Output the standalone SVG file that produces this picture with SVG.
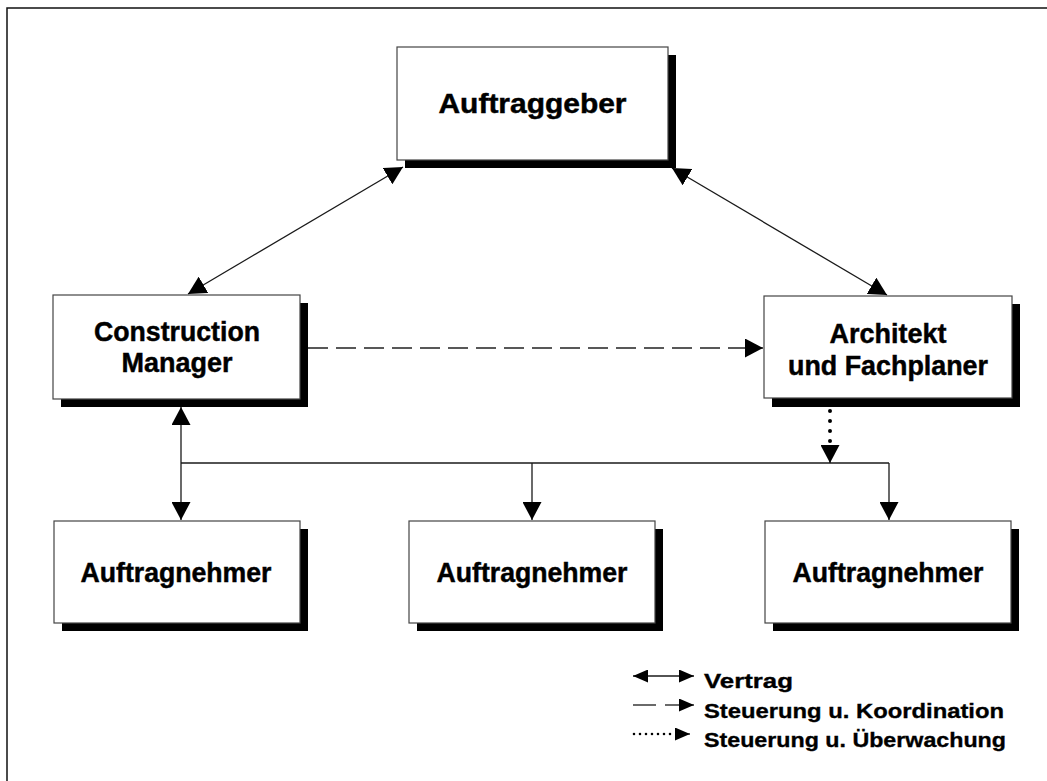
<svg xmlns="http://www.w3.org/2000/svg" width="1047" height="781" viewBox="0 0 1047 781">
  <style>
    .box { fill: #ffffff; stroke: #444444; stroke-width: 1.2; }
    .shadow { fill: #000000; }
    .label { font-family: "Liberation Sans", Arial, sans-serif; font-weight: bold; font-size: 27px; fill: #000000; stroke: #000000; stroke-width: 0.45; text-anchor: middle; }
    .legend { font-family: "Liberation Sans", Arial, sans-serif; font-weight: bold; font-size: 21px; fill: #000000; stroke: #000000; stroke-width: 0.35; }
    .line { fill: none; stroke: #1a1a1a; stroke-width: 1.3; }
    .dashed { stroke: #222222; stroke-width: 1.6; stroke-dasharray: 20 8; }
    .dotted { stroke: #000000; stroke-width: 4; stroke-linecap: round; stroke-dasharray: 0 10; }
    .ldotted { stroke: #000000; stroke-width: 2.6; stroke-linecap: round; stroke-dasharray: 0 6; }
  </style>
  <defs>
    <marker id="head" markerUnits="userSpaceOnUse" markerWidth="18" markerHeight="19" refX="18" refY="9.5" orient="auto-start-reverse">
      <path d="M0,0 L18,9.5 L0,19 Z" fill="#000000"/>
    </marker>
    <marker id="headSmall" markerUnits="userSpaceOnUse" markerWidth="15" markerHeight="13" refX="15" refY="6.5" orient="auto-start-reverse">
      <path d="M0,0 L15,6.5 L0,13 Z" fill="#000000"/>
    </marker>
  </defs>

  <rect width="1047" height="781" fill="#ffffff"/>
  <!-- outer frame (top and left edges) -->
  <path d="M7,781 L7,8 L1047,8" fill="none" stroke="#111111" stroke-width="1.5"/>

  <g id="connectors">
    <!-- contracts -->
    <line class="line" x1="188" y1="294" x2="403" y2="167" marker-start="url(#head)" marker-end="url(#head)"/>
    <line class="line" x1="672" y1="168" x2="887" y2="295" marker-start="url(#head)" marker-end="url(#head)"/>
    <line class="line" x1="181" y1="407" x2="181" y2="520" marker-start="url(#head)" marker-end="url(#head)"/>
    <!-- distribution bus to contractors -->
    <line class="line" x1="181" y1="463" x2="889" y2="463"/>
    <line class="line" x1="532" y1="463" x2="532" y2="520" marker-end="url(#head)"/>
    <line class="line" x1="889" y1="463" x2="889" y2="520" marker-end="url(#head)"/>
    <!-- coordination -->
    <line class="line dashed" x1="308" y1="348" x2="763" y2="348" marker-end="url(#head)"/>
    <!-- supervision -->
    <line class="line dotted" x1="830" y1="411" x2="830" y2="443"/>
    <line class="line" x1="830" y1="446" x2="830" y2="463" stroke="none" marker-end="url(#head)"/>
  </g>

  <g id="auftraggeber">
    <rect class="shadow" x="405" y="55" width="271" height="113"/>
    <rect class="box" x="397" y="47" width="271" height="113"/>
    <text class="label" x="532.5" y="113" textLength="188" lengthAdjust="spacingAndGlyphs">Auftraggeber</text>
  </g>

  <g id="construction-manager">
    <rect class="shadow" x="61" y="303" width="247" height="104"/>
    <rect class="box" x="53" y="295" width="247" height="104"/>
    <text class="label" x="177" y="341" textLength="166" lengthAdjust="spacingAndGlyphs">Construction</text>
    <text class="label" x="177" y="372" textLength="111" lengthAdjust="spacingAndGlyphs">Manager</text>
  </g>

  <g id="architekt">
    <rect class="shadow" x="772" y="304" width="248" height="103"/>
    <rect class="box" x="764" y="296" width="248" height="102"/>
    <text class="label" x="888" y="343" textLength="117" lengthAdjust="spacingAndGlyphs">Architekt</text>
    <text class="label" x="888" y="375" textLength="200" lengthAdjust="spacingAndGlyphs">und Fachplaner</text>
  </g>

  <g id="auftragnehmer-1">
    <rect class="shadow" x="62" y="529" width="246" height="102"/>
    <rect class="box" x="54" y="521" width="246" height="102"/>
    <text class="label" x="176" y="582" textLength="191" lengthAdjust="spacingAndGlyphs">Auftragnehmer</text>
  </g>

  <g id="auftragnehmer-2">
    <rect class="shadow" x="417" y="529" width="246" height="102"/>
    <rect class="box" x="409" y="521" width="246" height="102"/>
    <text class="label" x="532" y="582" textLength="191" lengthAdjust="spacingAndGlyphs">Auftragnehmer</text>
  </g>

  <g id="auftragnehmer-3">
    <rect class="shadow" x="773" y="529" width="246" height="102"/>
    <rect class="box" x="765" y="521" width="246" height="102"/>
    <text class="label" x="888" y="582" textLength="191" lengthAdjust="spacingAndGlyphs">Auftragnehmer</text>
  </g>

  <g id="legend">
    <line class="line" x1="633" y1="676" x2="694" y2="676" marker-start="url(#headSmall)" marker-end="url(#headSmall)"/>
    <text class="legend" x="704" y="688" textLength="89" lengthAdjust="spacingAndGlyphs">Vertrag</text>
    <line class="line" x1="633" y1="705" x2="656" y2="705"/>
    <line class="line" x1="665" y1="705" x2="694" y2="705" marker-end="url(#headSmall)"/>
    <text class="legend" x="704" y="718" textLength="300" lengthAdjust="spacingAndGlyphs">Steuerung u. Koordination</text>
    <line class="line ldotted" x1="634" y1="734" x2="676" y2="734"/>
    <line class="line" x1="677" y1="734" x2="690" y2="734" stroke="none" marker-end="url(#headSmall)"/>
    <text class="legend" x="704" y="747" textLength="302" lengthAdjust="spacingAndGlyphs">Steuerung u. Überwachung</text>
  </g>
</svg>
